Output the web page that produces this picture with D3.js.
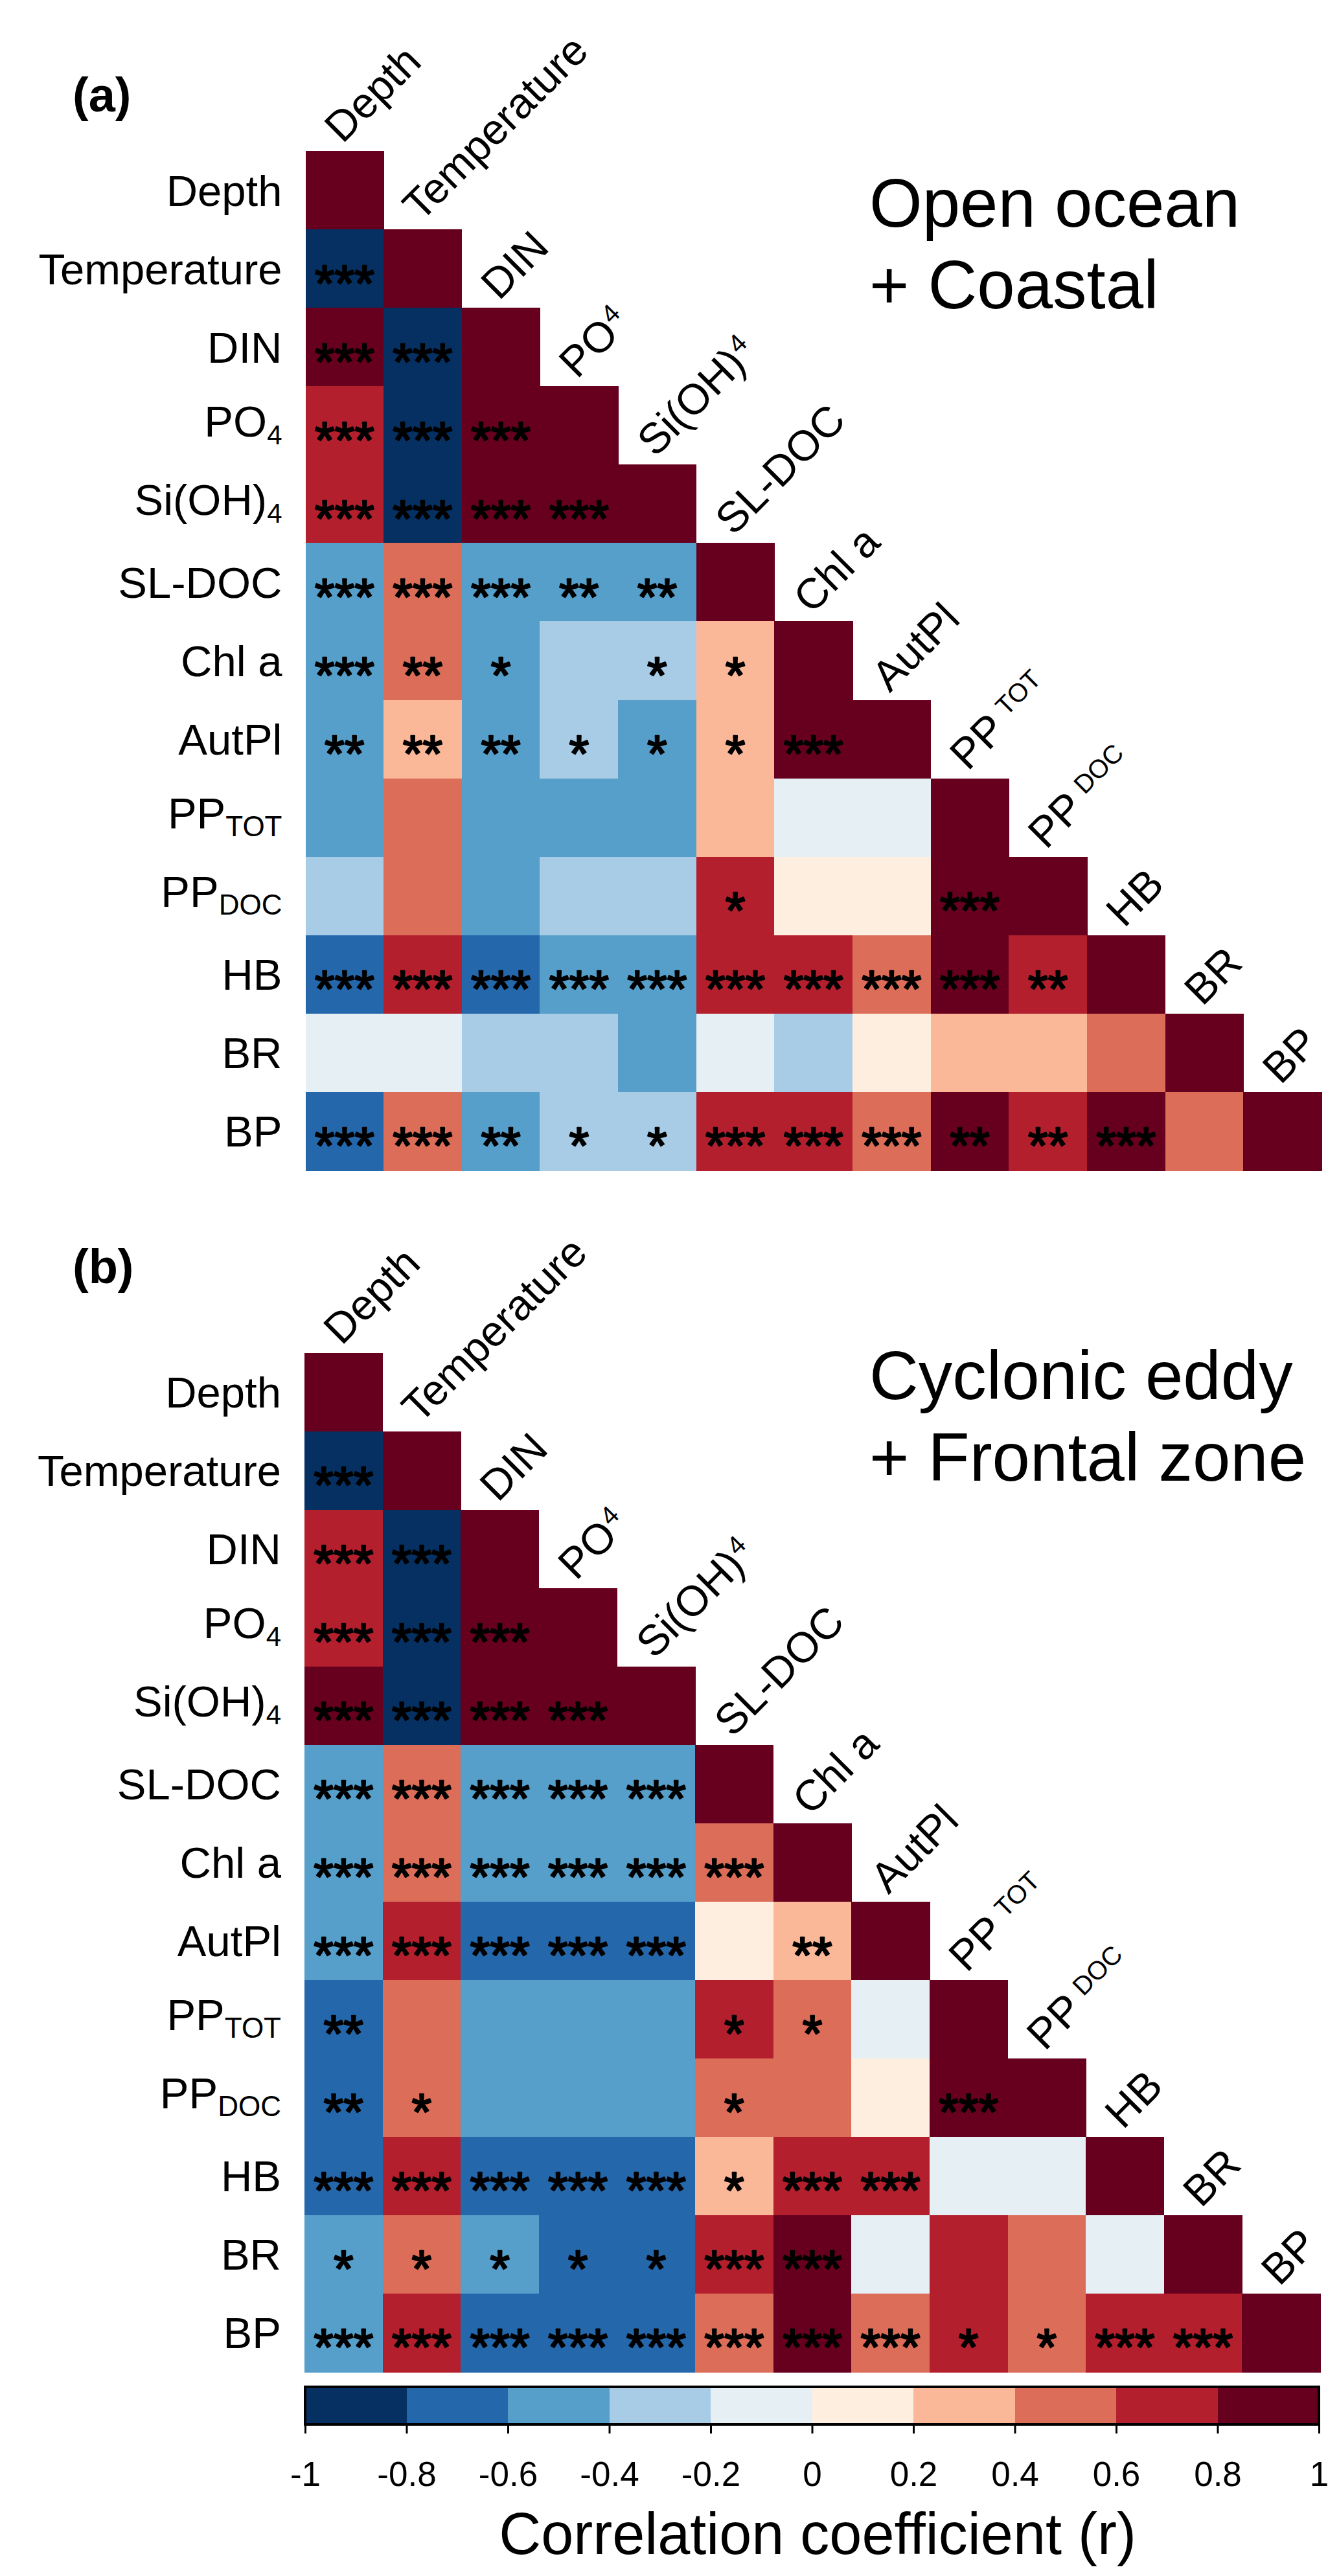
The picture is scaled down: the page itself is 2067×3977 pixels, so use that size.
<!DOCTYPE html>
<html>
<head>
<meta charset="UTF-8">
<title>Correlation matrices</title>
<script src="https://d3js.org/d3.v7.min.js"></script>
<style>
    body {
        margin: 0;
        padding: 0;
        background-color: #fff;
    }
    svg text {
        font-family: "Liberation Sans", Arial, sans-serif;
        fill: #000;
    }
    .cell {
        shape-rendering: crispEdges;
    }
    .star {
        stroke: #000;
        stroke-width: 2.5px;
        stroke-linejoin: round;
    }
</style>
</head>
<body>
<svg id="chart"></svg>
<script>
    // variables (row / column order)
    var varNames = ["Depth", "Temperature", "DIN", "PO4", "Si(OH)4", "SL-DOC", "Chl a", "AutPl", "PPTOT", "PPDOC", "HB", "BR", "BP"];
    var labelMain = ["Depth", "Temperature", "DIN", "PO", "Si(OH)", "SL-DOC", "Chl a", "AutPl", "PP", "PP", "HB", "BR", "BP"];
    var labelSub = ["", "", "", "4", "4", "", "", "", "TOT", "DOC", "", "", ""];

    // (a) open ocean + coastal : lower triangle, r values
    var rOpen = [
        [1],
        [-0.91, 1],
        [0.86, -0.93, 1],
        [0.72, -0.88, 0.92, 1],
        [0.75, -0.87, 0.90, 0.89, 1],
        [-0.52, 0.47, -0.50, -0.45, -0.46, 1],
        [-0.51, 0.44, -0.41, -0.33, -0.37, 0.35, 1],
        [-0.46, 0.34, -0.44, -0.36, -0.41, 0.33, 0.85, 1],
        [-0.48, 0.45, -0.47, -0.44, -0.45, 0.31, -0.12, -0.08, 1],
        [-0.35, 0.42, -0.43, -0.32, -0.34, 0.62, 0.08, 0.11, 0.87, 1],
        [-0.72, 0.73, -0.75, -0.55, -0.57, 0.66, 0.64, 0.52, 0.83, 0.67, 1],
        [-0.12, -0.10, -0.28, -0.30, -0.42, -0.14, -0.27, 0.06, 0.29, 0.32, 0.47, 1],
        [-0.74, 0.55, -0.47, -0.33, -0.36, 0.71, 0.68, 0.55, 0.82, 0.66, 0.85, 0.43, 1]
    ];
    var sigOpen = [
        [""],
        ["***", ""],
        ["***", "***", ""],
        ["***", "***", "***", ""],
        ["***", "***", "***", "***", ""],
        ["***", "***", "***", "**", "**", ""],
        ["***", "**", "*", "", "*", "*", ""],
        ["**", "**", "**", "*", "*", "*", "***", ""],
        ["", "", "", "", "", "", "", "", ""],
        ["", "", "", "", "", "*", "", "", "***", ""],
        ["***", "***", "***", "***", "***", "***", "***", "***", "***", "**", ""],
        ["", "", "", "", "", "", "", "", "", "", "", ""],
        ["***", "***", "**", "*", "*", "***", "***", "***", "**", "**", "***", "", ""]
    ];

    // (b) cyclonic eddy + frontal zone
    var rEddy = [
        [1],
        [-0.92, 1],
        [0.74, -0.90, 1],
        [0.71, -0.89, 0.93, 1],
        [0.84, -0.91, 0.90, 0.91, 1],
        [-0.54, 0.52, -0.48, -0.50, -0.47, 1],
        [-0.50, 0.55, -0.53, -0.51, -0.52, 0.56, 1],
        [-0.56, 0.68, -0.73, -0.71, -0.70, 0.12, 0.34, 1],
        [-0.65, 0.46, -0.45, -0.48, -0.46, 0.63, 0.52, -0.09, 1],
        [-0.66, 0.50, -0.44, -0.47, -0.45, 0.49, 0.44, 0.07, 0.84, 1],
        [-0.76, 0.74, -0.72, -0.70, -0.71, 0.36, 0.70, 0.69, -0.05, -0.06, 1],
        [-0.52, 0.47, -0.55, -0.63, -0.64, 0.72, 0.83, -0.04, 0.65, 0.46, -0.07, 1],
        [-0.57, 0.72, -0.71, -0.69, -0.72, 0.55, 0.86, 0.53, 0.64, 0.47, 0.70, 0.68, 1]
    ];
    var sigEddy = [
        [""],
        ["***", ""],
        ["***", "***", ""],
        ["***", "***", "***", ""],
        ["***", "***", "***", "***", ""],
        ["***", "***", "***", "***", "***", ""],
        ["***", "***", "***", "***", "***", "***", ""],
        ["***", "***", "***", "***", "***", "", "**", ""],
        ["**", "", "", "", "", "*", "*", "", ""],
        ["**", "*", "", "", "", "*", "", "", "***", ""],
        ["***", "***", "***", "***", "***", "*", "***", "***", "", "", ""],
        ["*", "*", "*", "*", "*", "***", "***", "", "", "", "", ""],
        ["***", "***", "***", "***", "***", "***", "***", "***", "*", "*", "***", "***", ""]
    ];

    // colour key
    var binColors = ["#053061", "#2567AB", "#569FCA", "#A9CCE6", "#E6EFF4", "#FEEEDF", "#FBB898", "#DB6D59", "#B41F2E", "#67001F"];
    var keyTicks = [-1, -0.8, -0.6, -0.4, -0.2, 0, 0.2, 0.4, 0.6, 0.8, 1];

    var W = 2067, H = 3977;

    var svg = d3.select("#chart")
        .attr("width", W)
        .attr("height", H);

    var color = d3.scaleQuantize()
        .domain([-1, 1])
        .range(binColors);

    function drawPanel(p) {
        var n = varNames.length;
        var x = d3.scaleBand().domain(d3.range(n)).range([p.left, p.right]);
        var y = d3.scaleBand().domain(d3.range(n)).range([p.top, p.bottom]);
        var bw = x.bandwidth(), bh = y.bandwidth();

        var cells = [];
        p.r.forEach(function(row, i) {
            row.forEach(function(v, j) {
                cells.push({i: i, j: j, r: v, s: p.sig[i][j]});
            });
        });

        var g = svg.append("g");

        g.selectAll("rect.cell")
            .data(cells)
            .enter().append("rect")
            .attr("class", "cell")
            .attr("x", function(d) { return x(d.j); })
            .attr("y", function(d) { return y(d.i); })
            .attr("width", bw + 0.6)
            .attr("height", bh + 0.6)
            .attr("fill", function(d) { return color(d.r); });

        // significance stars
        g.selectAll("text.star")
            .data(cells.filter(function(d) { return d.s; }))
            .enter().append("text")
            .attr("class", "star")
            .attr("x", function(d) { return x(d.j) + bw / 2; })
            .attr("y", function(d) { return y(d.i) + bh / 2 + 50; })
            .attr("text-anchor", "middle")
            .attr("font-size", 79)
            .text(function(d) { return d.s; });

        // row labels (subscripts below)
        var rl = g.selectAll("text.rowlab")
            .data(d3.range(n))
            .enter().append("text")
            .attr("class", "rowlab")
            .attr("x", p.left - 36)
            .attr("y", function(i) { return y(i) + bh / 2 + (labelSub[i] ? 17 : 24); })
            .attr("text-anchor", "end")
            .attr("font-size", 67);
        rl.append("tspan").text(function(i) { return labelMain[i]; });
        rl.filter(function(i) { return labelSub[i]; })
            .append("tspan")
            .attr("dy", 12)
            .attr("font-size", function(i) { return labelSub[i].length > 1 ? 44 : 42; })
            .text(function(i) { return labelSub[i]; });

        // column labels, rotated 45 degrees (subscripts end up raised)
        var cl = g.selectAll("text.collab")
            .data(d3.range(n))
            .enter().append("text")
            .attr("class", "collab")
            .attr("font-size", 66)
            .attr("transform", function(i) {
                return "translate(" + (x(i) + bw / 2 - 3) + "," + (y(i) - 10) + ") rotate(-45)";
            });
        cl.append("tspan").text(function(i) { return labelMain[i]; });
        cl.filter(function(i) { return labelSub[i]; })
            .append("tspan")
            .attr("dx", function(i) { return labelSub[i].length > 1 ? 14 : 2; })
            .attr("dy", function(i) { return labelSub[i].length > 1 ? -18 : -22; })
            .attr("font-size", 40)
            .text(function(i) { return labelSub[i]; });

        svg.append("text")
            .attr("x", 112)
            .attr("y", p.tagY)
            .attr("font-size", 74)
            .attr("font-weight", "bold")
            .text(p.tag);

        svg.append("text")
            .attr("font-size", 105)
            .selectAll("tspan")
            .data(p.note)
            .enter().append("tspan")
            .attr("x", 1342)
            .attr("y", function(d, k) { return p.noteY + k * 126; })
            .text(function(d) { return d; });
    }

    drawPanel({r: rOpen, sig: sigOpen, left: 471.5, right: 2040, top: 233, bottom: 1807,
               tag: "(a)", tagY: 172, note: ["Open ocean", "+ Coastal"], noteY: 350});
    drawPanel({r: rEddy, sig: sigEddy, left: 470, right: 2038, top: 2088.5, bottom: 3662,
               tag: "(b)", tagY: 1981, note: ["Cyclonic eddy", "+ Frontal zone"], noteY: 2160});

    // colour key
    var kx = d3.scaleLinear().domain([-1, 1]).range([471, 2036]);
    var keyTop = 3685, keyH = 58;
    var key = svg.append("g");

    key.selectAll("rect.bin")
        .data(binColors)
        .enter().append("rect")
        .attr("class", "cell")
        .attr("x", function(d, i) { return kx(keyTicks[i]); })
        .attr("y", keyTop)
        .attr("width", function(d, i) { return kx(keyTicks[i + 1]) - kx(keyTicks[i]) + 0.5; })
        .attr("height", keyH)
        .attr("fill", function(d) { return d; });

    key.append("rect")
        .attr("x", kx(-1))
        .attr("y", keyTop)
        .attr("width", kx(1) - kx(-1))
        .attr("height", keyH)
        .attr("fill", "none")
        .attr("stroke", "#000")
        .attr("stroke-width", 4);

    var axis = d3.axisBottom(kx)
        .tickValues(keyTicks)
        .tickSize(14)
        .tickPadding(43)
        .tickFormat(function(d) { return String(Math.round(d * 10) / 10); });

    var ax = key.append("g")
        .attr("transform", "translate(0," + (keyTop + keyH) + ")")
        .call(axis);
    ax.select(".domain").remove();
    ax.selectAll(".tick line").attr("stroke", "#000").attr("stroke-width", 3);
    ax.selectAll(".tick text")
        .attr("font-size", 53)
        .attr("font-family", "Liberation Sans, Arial, sans-serif")
        .attr("fill", "#000");

    key.append("text")
        .attr("x", 1262)
        .attr("y", 3943)
        .attr("text-anchor", "middle")
        .attr("font-size", 90)
        .text("Correlation coefficient (r)");
</script>
</body>
</html>
